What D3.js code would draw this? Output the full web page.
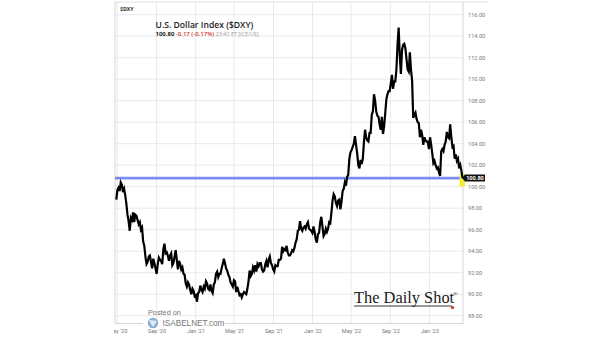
<!DOCTYPE html>
<html><head><meta charset="utf-8">
<script src="https://cdn.jsdelivr.net/npm/d3@7"></script>
<style>body{margin:0;background:#fff}svg{display:block}</style>
</head><body>
<script>
// ---- data (two readings per week, starting on the Monday given) ----
const start2020 = "2020-04-27";
const v2020 = [98.8,99.7, 99.9,99.6, 100.4,100.2, 99.5,99.8, 99.2,98.4, 97.4,96.8, 95.9,97.1, 96.9,97.6, 96.7,97.4, 97.3,96.9,
 96.5,96.7, 96.0,96.2, 94.9,94.5, 93.5,92.8, 93.0,93.5, 93.6,93.0, 92.4,93.3, 92.9,92.4, 91.9,92.8, 93.4,93.2,
 93.1,92.8, 94.2,94.7, 93.8,93.9, 93.6,93.1, 93.6,93.8, 92.7,92.9, 93.5,94.1, 93.2,92.3, 93.1,92.8, 92.3,92.5,
 91.9,91.8, 91.0,90.7, 91.1,90.9, 90.4,90.0, 90.5,90.3, 89.8,89.9];
const start2021 = "2021-01-04";
const v2021 = [89.3,90.1, 90.2,90.8, 90.4,90.2, 90.7,90.5, 91.2,91.0, 90.5,90.4, 90.9,90.3, 90.1,90.9, 91.1,91.9, 92.1,91.6,
 91.9,91.9, 92.4,92.8, 93.3,92.9, 92.4,92.2, 91.8,91.6, 91.1,90.9, 90.7,91.3, 91.2,90.2, 90.7,90.3, 89.9,90.0,
 89.7,90.0, 90.2,90.1, 90.0,90.5, 91.2,92.2, 91.7,91.9, 92.5,92.2, 92.7,92.1, 92.8,92.6, 92.9,92.9, 92.3,92.1,
 92.2,92.8, 93.1,92.5, 93.2,93.5, 92.9,92.7, 92.3,92.1, 92.7,92.6, 92.6,93.2, 93.2,93.3, 94.4,94.0, 94.2,94.1,
 94.5,93.9, 93.6,93.6, 93.8,94.1, 94.0,94.3, 94.8,95.1, 95.9,96.0, 96.8,96.1, 95.9,96.2, 96.3,96.1, 96.5,96.7,
 96.1,96.0, 95.9,95.7];
const start2022 = "2022-01-03";
const v2022 = [96.3,95.8, 95.1,94.8, 95.6,95.7, 96.7,97.2, 96.3,95.4, 95.6,96.1, 95.8,96.1, 96.7,96.6, 97.6,98.7, 99.3,99.1,
 98.5,98.2, 98.7,98.8, 97.9,98.6, 99.6,99.8, 100.4,100.1, 100.9,101.1, 102.6,103.2, 103.4,103.7, 104.0,104.7, 103.9,103.1,
 102.0,101.7, 102.5,102.1, 102.6,104.1, 105.3,104.6, 104.3,104.2, 105.0,105.0, 106.7,107.0, 108.6,108.0, 107.0,106.6, 106.5,105.8,
 105.3,106.5, 104.9,105.6, 106.8,108.1, 108.6,108.9, 108.9,109.6, 110.4,109.1, 109.8,109.8, 110.9,113.2, 114.8,112.2, 110.5,112.7,
 113.2,113.3, 112.9,111.9, 110.9,110.7, 112.5,110.9, 109.9,106.4, 106.7,106.9, 106.3,106.0, 105.9,104.6, 105.3,104.8, 103.9,104.6,
 104.3,104.2, 104.2,103.5];
const start2023 = "2023-01-02";
const v2023 = [104.6,103.9, 103.1,102.2, 102.4,102.0, 101.7,101.8, 101.3,101.0, 103.3,103.5, 103.3,103.9, 104.2,105.1, 104.6,104.5, 105.8,104.6,
 103.7,103.8, 102.6,103.0, 102.4,102.6, 101.7,102.0, 101.5,100.8];

const lastPrice = 100.80;
const yTicks = [88,90,92,94,96,98,100,102,104,106,108,110,112,114,116];
const xTickDates = ["2020-05-01","2020-09-01","2021-01-01","2021-05-01","2021-09-01","2022-01-01","2022-05-01","2022-09-01","2023-01-01"];
const xTickLabels = ["May '20","Sep '20","Jan '21","May '21","Sep '21","Jan '22","May '22","Sep '22","Jan '23"];

// ---- build series ----
const parse = d3.timeParse("%Y-%m-%d");
function series(startStr, vals){ const s = parse(startStr); return vals.map((v,i)=>({d:d3.timeHour.offset(s, 24 + i*84), v})); }
const data = [].concat(series(start2020,v2020), series(start2021,v2021), series(start2022,v2022), series(start2023,v2023));

// ---- layout ----
const W=605, H=341;
const L=115, R=463, T=2, B=323.5;
const svg = d3.select("body").append("svg").attr("width",W).attr("height",H);
const x = d3.scaleTime().domain([parse("2020-04-24"), parse("2023-04-16")]).range([L,R]);
const y = d3.scaleLinear().domain([88,116]).range([315.7,14.7]);

svg.append("defs").append("clipPath").attr("id","c").append("rect").attr("x",114).attr("y",0).attr("width",400).attr("height",H);

// gridlines
const g = svg.append("g");
g.selectAll(".hg").data(yTicks).join("line").attr("x1",L).attr("x2",R).attr("y1",d=>y(d)).attr("y2",d=>y(d)).attr("stroke","#e9e9e9").attr("stroke-width",1);
g.selectAll(".vg").data(xTickDates).join("line").attr("x1",d=>x(parse(d))).attr("x2",d=>x(parse(d))).attr("y1",T).attr("y2",B).attr("stroke","#e9e9e9").attr("stroke-width",1);

// frame
svg.append("line").attr("x1",L).attr("x2",L).attr("y1",T).attr("y2",B).attr("stroke","#d6d6d6");
svg.append("line").attr("x1",R).attr("x2",R).attr("y1",T).attr("y2",B+1).attr("stroke","#d6d6d6");
svg.append("line").attr("x1",L).attr("x2",488).attr("y1",T).attr("y2",T).attr("stroke","#e0e0e0");
svg.append("line").attr("x1",L).attr("x2",R).attr("y1",B).attr("y2",B).attr("stroke","#d6d6d6");

// right axis
const ya = d3.axisRight(y).tickValues(yTicks).tickFormat(d3.format(".2f")).tickSize(0).tickPadding(5);
const yg = svg.append("g").attr("transform",`translate(${R},0)`).call(ya);
yg.select(".domain").remove();
yg.selectAll("text").attr("font-family","Roboto, sans-serif").attr("font-size","5.6px").attr("fill","#777");

// bottom axis
const xa = d3.axisBottom(x).tickValues(xTickDates.map(parse)).tickFormat((d,i)=>xTickLabels[i]).tickSize(0).tickPadding(6);
const xg = svg.append("g").attr("transform",`translate(0,${B})`).attr("clip-path","url(#c)").call(xa);
xg.select(".domain").remove();
xg.selectAll("text").attr("font-family","Roboto, sans-serif").attr("font-size","5.6px").attr("fill","#777");

// last price horizontal line
svg.append("line").attr("x1",L).attr("x2",R).attr("y1",y(lastPrice)).attr("y2",y(lastPrice)).attr("stroke","#7b8cf0").attr("stroke-width",2.6);
// yellow highlight
const lastD = data[data.length-1].d;
svg.append("rect").attr("x",x(lastD)-3).attr("y",y(101.2)).attr("width",5.5).attr("height",y(100)-y(101.2)).attr("fill","#f5ea3c");

// price line
svg.append("path").datum(data).attr("d",d3.line().x(d=>x(d.d)).y(d=>y(d.v)))
  .attr("fill","none").attr("stroke","#000").attr("stroke-width",2.2).attr("stroke-linejoin","miter");

// price label
const ly = y(lastPrice);
svg.append("path").attr("d",`M${R-1},${ly} L${R+2},${ly-3.5} L${R+22},${ly-3.5} L${R+22},${ly+3.5} L${R+2},${ly+3.5} Z`).attr("fill","#111");
svg.append("text").attr("x",R+12).attr("y",ly+2).attr("text-anchor","middle").attr("font-family","Roboto, sans-serif").attr("font-weight","700").attr("font-size","5.6px").attr("fill","#fff").text(d3.format(".2f")(lastPrice));

// header
svg.append("text").attr("x",120).attr("y",10.5).attr("font-family","Roboto, sans-serif").attr("font-weight","700").attr("font-size","5.5px").attr("fill","#333").text("$DXY");
svg.append("text").attr("x",155.5).attr("y",28).attr("font-family","'Open Sans', sans-serif").attr("font-weight","600").attr("font-size","8.6px").attr("fill","#222").text("U.S. Dollar Index ($DXY)");
const sub = svg.append("text").attr("x",155.5).attr("y",36.3).attr("font-family","'Open Sans', sans-serif").attr("font-size","6px");
sub.append("tspan").attr("font-weight","700").attr("fill","#222").text("100.80 ");
sub.append("tspan").attr("font-weight","600").attr("fill","#d0312d").text("-0.17 (-0.17%) ");
sub.append("tspan").attr("fill","#999").attr("font-size","5.4px").text("23:40 ET [ICE/US]");

// The Daily Shot logo
svg.append("text").attr("x",354).attr("y",303).attr("font-family","'Liberation Serif', serif").attr("font-size","16.4px").attr("fill","#1a1a1a").text("The Daily Shot");
svg.append("text").attr("x",453).attr("y",296).attr("font-family","'Liberation Serif', serif").attr("font-size","6px").attr("fill","#1a1a1a").text("®");
svg.append("line").attr("x1",354).attr("x2",452).attr("y1",306).attr("y2",306).attr("stroke","#222").attr("stroke-width",0.9);
svg.append("circle").attr("cx",452.5).attr("cy",307.5).attr("r",1.6).attr("fill","#d42a2a");

// Posted on ISABELNET watermark
svg.append("rect").attr("x",143).attr("y",319).attr("width",82).attr("height",9).attr("fill","#fff");
svg.append("text").attr("x",148).attr("y",315).attr("font-family","'Liberation Sans', Arial, sans-serif").attr("font-size","7.3px").attr("fill","#777").text("Posted on");
const grad = svg.select("defs").append("radialGradient").attr("id","lg");
grad.append("stop").attr("offset","0%").attr("stop-color","#9fc4e8");
grad.append("stop").attr("offset","100%").attr("stop-color","#5b8fc4");
svg.append("circle").attr("cx",153).attr("cy",323).attr("r",5.2).attr("fill","url(#lg)").attr("opacity",0.8);
svg.append("path").attr("d","M149,320 L157,321 L153,327 Z").attr("fill","#e8eef5").attr("opacity",0.9);
svg.append("text").attr("x",162.5).attr("y",326).attr("font-family","'Liberation Sans', Arial, sans-serif").attr("font-size","8.2px").attr("fill","#777").text("ISABELNET.com");
</script>
</body></html>
